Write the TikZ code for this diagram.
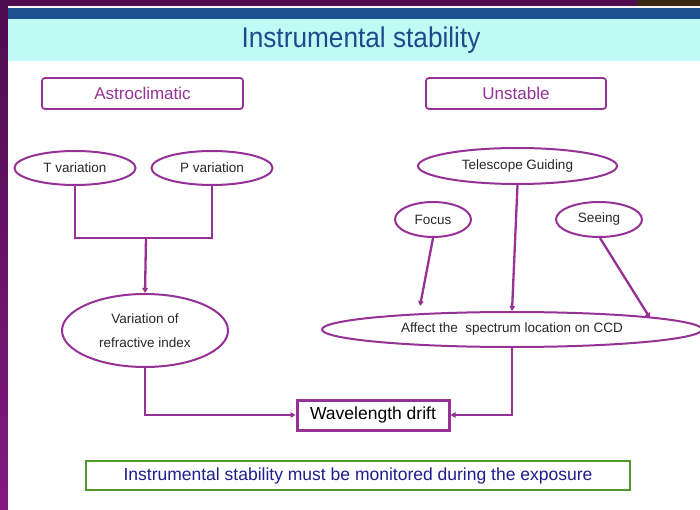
\documentclass[tikz,border=0pt]{standalone}
\usepackage{fontspec}
\setmainfont{Liberation Sans}
\usetikzlibrary{shapes.geometric,arrows.meta}
\definecolor{pur}{RGB}{150,50,150}
\definecolor{bgpur}{RGB}{78,12,78}
\definecolor{bgpur2}{RGB}{130,25,130}
\definecolor{band}{RGB}{28,80,144}
\definecolor{cyanb}{RGB}{192,250,244}
\definecolor{titleblue}{RGB}{30,75,140}
\definecolor{navy}{RGB}{30,30,140}
\definecolor{grn}{RGB}{80,150,40}
\definecolor{txt}{RGB}{40,40,40}
\tikzset{
  ell/.style={ellipse, draw=pur, line width=2pt, fill=white, inner sep=0pt, text=txt, font=\fontsize{13.5}{16}\selectfont},
  hdr/.style={rectangle, rounded corners=3pt, draw=pur, line width=1.8pt, text=pur, font=\fontsize{17}{20}\selectfont, inner sep=0pt},
  con/.style={draw=pur, line width=2.3pt},
  arr/.style={con, -{Triangle[length=5pt,width=5.5pt]}},
}
\begin{document}
\begin{tikzpicture}[x=1pt,y=-1pt]
\useasboundingbox (0,0) rectangle (700,510);
% background
\fill[bgpur] (0,0) rectangle (700,510);
\shade[top color=bgpur, bottom color=bgpur2] (0,0) rectangle (8,510);
\fill[black!70!brown] (637,0) rectangle (700,7);
\fill[white!85!pink] (8,6.5) rectangle (700,8);
\fill[band] (8,8) rectangle (700,19.5);
\fill[cyanb] (8,19.5) rectangle (700,61);
\fill[white] (8,61) rectangle (700,510);
\node[text=titleblue, font=\fontsize{28.5}{32}\selectfont] (title) at (361,40) {\scalebox{0.92}[1]{Instrumental stability}};
% headers
\node[hdr, minimum width=201pt, minimum height=31pt] (astro) at (142.5,93.5) {Astroclimatic};
\node[hdr, minimum width=180pt, minimum height=31pt] (unst) at (516,93.5) {Unstable};
% left branch
\node[ell, minimum width=121pt, minimum height=34pt] (T) at (75,168) {T variation};
\node[ell, minimum width=121pt, minimum height=34pt] (P) at (212,168) {P variation};
\node[ell, minimum width=166pt, minimum height=73pt, align=center] (V) at (145,330.5) {Variation of\\[8pt]refractive index};
\coordinate (j) at (146,238);
\draw[con] (T.south) |- (j) -| (P.south);
\draw[arr] (j) -- (V.north);
% right branch
\node[ell, minimum width=199pt, minimum height=36pt] (G) at (517.5,166) {Telescope Guiding};
\node[ell, minimum width=76pt, minimum height=35pt] (F) at (433,219.5) {Focus};
\node[ell, minimum width=86pt, minimum height=35pt] (S) at (599,219.5) {Seeing};
\node[ell, minimum width=380pt, minimum height=35pt] (A) at (512,329.5) {Affect the\ \ spectrum location on CCD};
\coordinate (fa) at (420,306);
\coordinate (sa) at (650,318);
\draw[arr] (F.south) -- (fa);
\draw[arr] (G.south) -- (A.north);
\draw[arr] (S.south) ++(1,0) -- (sa);
% result
\node[draw=pur, line width=3pt, minimum width=152pt, minimum height=30pt, inner sep=0pt, font=\fontsize{17.5}{20}\selectfont] (W) at (373,415) {Wavelength drift};
\draw[arr] (V.south) |- (W.west);
\draw[arr] (A.south) |- (W.east);
% note
\node[draw=grn, line width=2.2pt, minimum width=544pt, minimum height=29pt, inner sep=0pt, text=navy, font=\fontsize{17.5}{20}\selectfont] (note) at (358,475.5) {Instrumental stability must be monitored during the exposure};
\end{tikzpicture}
\end{document}
